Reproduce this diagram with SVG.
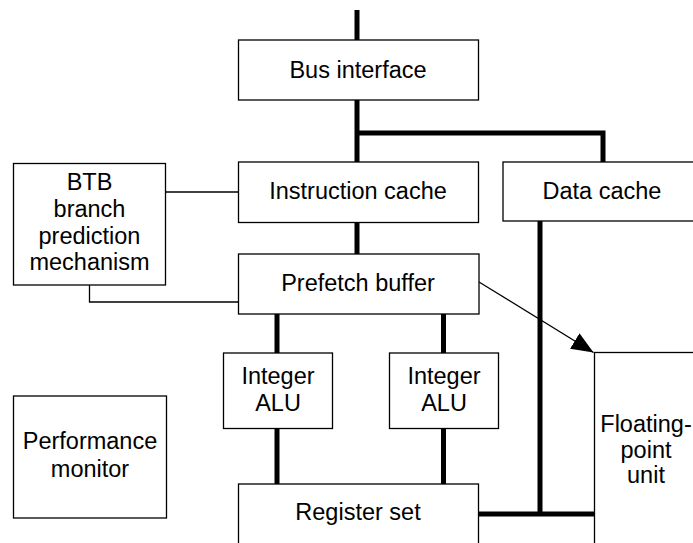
<svg xmlns="http://www.w3.org/2000/svg" width="693" height="543" viewBox="0 0 693 543">
<defs>
<style>
.box{fill:#fff;stroke:#000;stroke-width:1.3}
.t{font-family:"Liberation Sans",Arial,sans-serif;font-size:23.5px;fill:#000;text-anchor:middle}
.thick{stroke:#000;stroke-width:5;fill:none;stroke-linecap:butt}
.thin{stroke:#000;stroke-width:1.3;fill:none}
</style>
<marker id="ah" markerUnits="userSpaceOnUse" markerWidth="24" markerHeight="20" refX="22" refY="9" orient="auto" viewBox="0 0 24 18">
<path d="M0,0 L22,9 L0,18 Z" fill="#000"/>
</marker>
</defs>
<rect width="693" height="543" fill="#fff"/>
<g id="connectors">
<line class="thick" x1="357" y1="10" x2="357" y2="40"/>
<line class="thick" x1="357" y1="100" x2="357" y2="162"/>
<polyline class="thick" points="357,133 603,133 603,162"/>
<line class="thick" x1="357" y1="222" x2="357" y2="254"/>
<line class="thin" x1="166" y1="192" x2="238" y2="192"/>
<polyline class="thin" points="89.5,285 89.5,302 238,302"/>
<line class="thick" x1="277" y1="314" x2="277" y2="353"/>
<line class="thick" x1="443.5" y1="314" x2="443.5" y2="353"/>
<line class="thick" x1="277" y1="429" x2="277" y2="484"/>
<line class="thick" x1="443.5" y1="429" x2="443.5" y2="484"/>
<line class="thick" x1="540" y1="221" x2="540" y2="516"/>
<line class="thick" x1="479" y1="514" x2="594" y2="514"/>
<line class="thin" x1="479" y1="282" x2="593.5" y2="352.5" marker-end="url(#ah)"/>
</g>
<g id="bus-interface">
<rect class="box" x="238.5" y="40" width="240" height="60"/>
<text class="t" x="358" y="77.5">Bus interface</text>
</g>
<g id="instruction-cache">
<rect class="box" x="238.5" y="162" width="240" height="60.5"/>
<text class="t" x="358" y="198.5">Instruction cache</text>
</g>
<g id="data-cache">
<rect class="box" x="503" y="162" width="210" height="59"/>
<text class="t" x="602" y="199">Data cache</text>
</g>
<g id="btb">
<rect class="box" x="13.5" y="163.5" width="152" height="121.5"/>
<text class="t" x="89.5" y="190">BTB</text>
<text class="t" x="89.5" y="216.5">branch</text>
<text class="t" x="89.5" y="243.5">prediction</text>
<text class="t" x="89.5" y="270">mechanism</text>
</g>
<g id="prefetch-buffer">
<rect class="box" x="238.5" y="254" width="240.5" height="60"/>
<text class="t" x="358" y="291">Prefetch buffer</text>
</g>
<g id="integer-alu-1">
<rect class="box" x="223.5" y="353" width="109" height="75.5"/>
<text class="t" x="278" y="383.5">Integer</text>
<text class="t" x="278" y="410.5">ALU</text>
</g>
<g id="integer-alu-2">
<rect class="box" x="389.5" y="353" width="109" height="75.5"/>
<text class="t" x="444" y="383.5">Integer</text>
<text class="t" x="444" y="410.5">ALU</text>
</g>
<g id="performance-monitor">
<rect class="box" x="13.5" y="396" width="153" height="122"/>
<text class="t" x="90" y="449">Performance</text>
<text class="t" x="90" y="476.5">monitor</text>
</g>
<g id="register-set">
<rect class="box" x="238.5" y="484" width="240" height="80"/>
<text class="t" x="358" y="520">Register set</text>
</g>
<g id="floating-point-unit">
<rect class="box" x="594.5" y="352.5" width="120" height="220"/>
<text class="t" x="646" y="432">Floating-</text>
<text class="t" x="646" y="457.5">point</text>
<text class="t" x="646" y="483">unit</text>
</g>
</svg>
